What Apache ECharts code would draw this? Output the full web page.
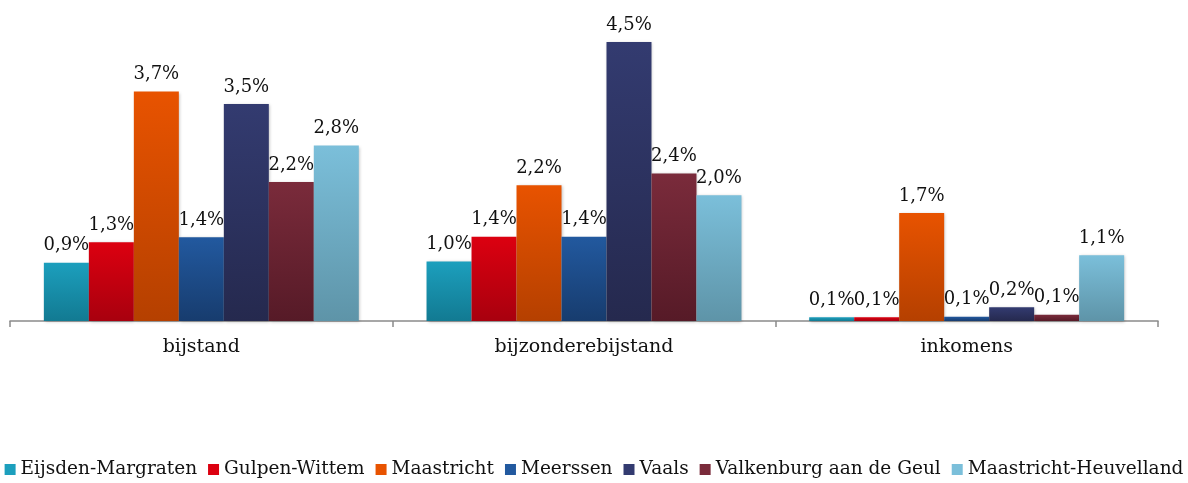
<!DOCTYPE html>
<html>
<head>
<meta charset="utf-8">
<script src="https://cdn.jsdelivr.net/npm/echarts@6/dist/echarts.min.js"></script>
<style>
  html, body { margin: 0; padding: 0; background: #fff; }
  #chart { width: 1188px; height: 483px; }
</style>
</head>
<body>
<div id="chart"></div>
<script>
// categories and series (in %)
const categories = ['bijstand', 'bijzonderebijstand', 'inkomens']
const gemeenten = ['Eijsden-Margraten', 'Gulpen-Wittem', 'Maastricht', 'Meerssen', 'Vaals', 'Valkenburg aan de Geul', 'Maastricht-Heuvelland']
const eijsdenMargraten = [0.94, 0.96, 0.06]
const gulpenWittem = [1.27, 1.36, 0.06]
const maastricht = [3.7, 2.19, 1.74]
const meerssen = [1.35, 1.36, 0.07]
const vaals = [3.5, 4.5, 0.22]
const valkenburg = [2.24, 2.38, 0.1]
const heuvelland = [2.83, 2.03, 1.06]

const seriesValues = [eijsdenMargraten, gulpenWittem, maastricht, meerssen, vaals, valkenburg, heuvelland]

// top / bottom colours of the gradient per bar
const colours = [
  ['#1c9fbd', '#127a92'],
  ['#dc0010', '#a8000e'],
  ['#e85300', '#b54000'],
  ['#22599f', '#173c6e'],
  ['#333b70', '#25294e'],
  ['#7a2b3b', '#561a27'],
  ['#7bbfda', '#5e94a8']
]

const font = 'DejaVu Serif'

const chart = echarts.init(document.getElementById('chart'))

const series = gemeenten.map((name, i) => ({
  name: name,
  type: 'bar',
  data: seriesValues[i],
  barGap: '0%',
  barCategoryGap: '17.7%',
  itemStyle: {
    color: new echarts.graphic.LinearGradient(0, 0, 0, 1, [
      { offset: 0, color: colours[i][0] },
      { offset: 1, color: colours[i][1] }
    ]),
    shadowColor: 'rgba(0,0,0,0.25)',
    shadowBlur: 3,
    shadowOffsetX: 1,
    shadowOffsetY: 1
  },
  label: {
    show: true,
    position: 'top',
    distance: 8,
    fontFamily: font,
    fontSize: 18,
    color: '#111',
    formatter: p => p.value.toFixed(1).replace('.', ',') + '%'
  }
}))

const option = {
  animation: false,
  textStyle: { fontFamily: font },
  grid: { left: 10, right: 30, top: 11, bottom: 162 },
  legend: {
    data: gemeenten.map((name, i) => ({
      name: name,
      itemStyle: { color: colours[i][0] },
      textStyle: { fontFamily: font, fontSize: 18.5, color: '#111' }
    })),
    bottom: 4,
    left: 'center',
    width: 1188,
    padding: 0,
    icon: 'rect',
    itemWidth: 11,
    itemHeight: 11,
    itemGap: 11,
    textStyle: { fontFamily: font, fontSize: 18.5, color: '#111' }
  },
  xAxis: {
    type: 'category',
    data: categories,
    axisLine: { lineStyle: { color: '#8a8a8a', width: 1.5 } },
    axisTick: { show: true, length: 6, lineStyle: { color: '#8a8a8a', width: 1.5 } },
    axisLabel: { fontFamily: font, fontSize: 19, color: '#111', margin: 17 }
  },
  yAxis: {
    type: 'value',
    min: 0,
    max: 5,
    show: false,
    splitLine: { show: false }
  },
  series: series
}

chart.setOption(option)
</script>
</body>
</html>
